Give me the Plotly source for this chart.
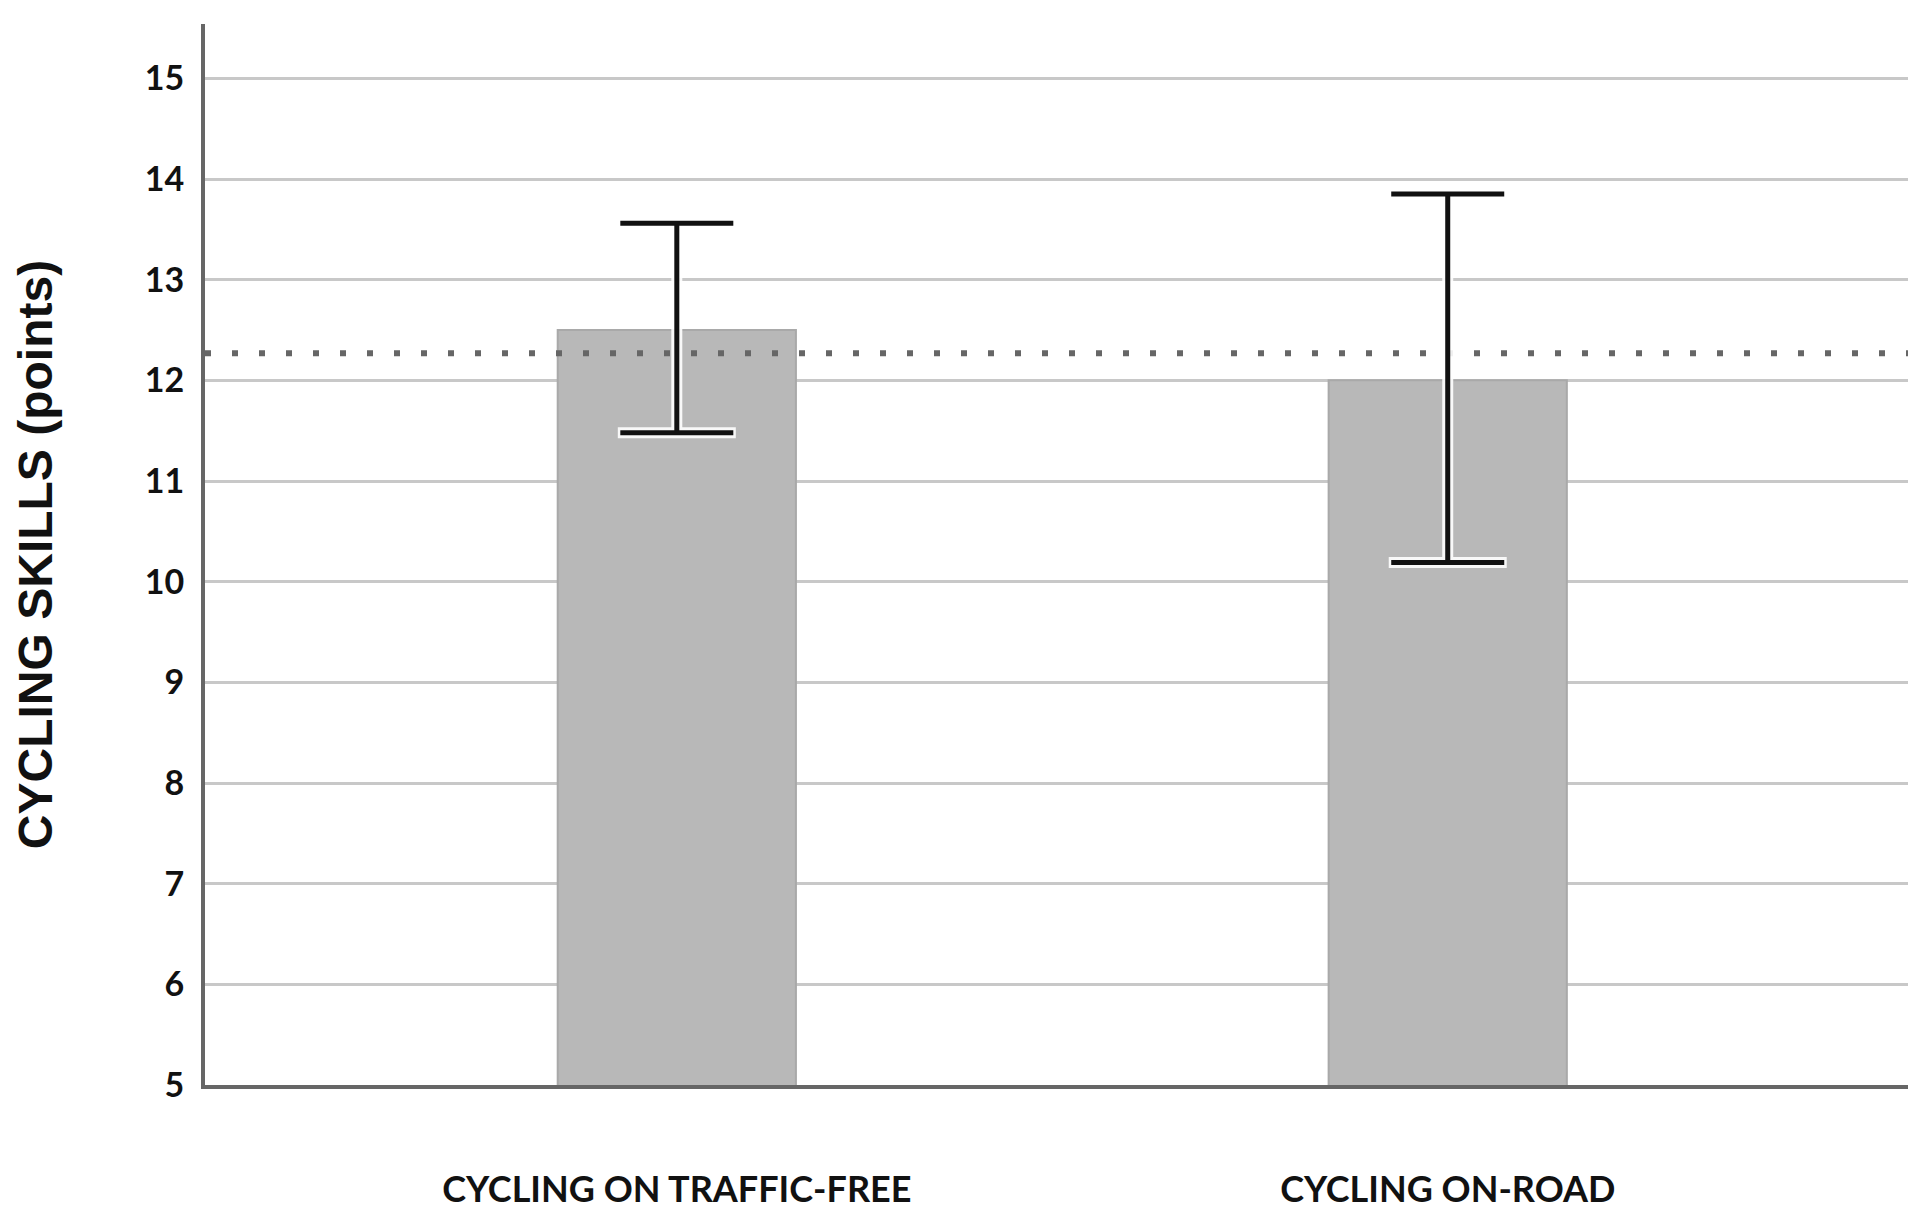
import plotly.graph_objects as go

categories = ["CYCLING ON TRAFFIC-FREE", "CYCLING ON-ROAD"]
means = [12.50, 12.00]
ci_upper = [13.56, 13.85]
ci_lower = [11.48, 10.19]
reference_level = 12.27
y_ticks = [5, 6, 7, 8, 9, 10, 11, 12, 13, 14, 15]

x_pos = list(range(len(categories)))
err_plus = [u - m for u, m in zip(ci_upper, means)]
err_minus = [m - l for m, l in zip(means, ci_lower)]
x_range = [-0.612, 1.610]

fig = go.Figure()
fig.add_trace(go.Bar(
    x=x_pos, y=means, base=0, width=0.309,
    marker=dict(color="#b8b8b8", line=dict(color="#a9a9a9", width=2)),
    showlegend=False, hoverinfo="skip",
))
fig.add_trace(go.Scatter(
    x=[x_range[0], x_range[1]], y=[reference_level, reference_level],
    mode="lines", line=dict(color="#666666", width=6, dash="6px,21px"),
    showlegend=False, hoverinfo="skip",
))
# white halo behind error bars
fig.add_trace(go.Scatter(
    x=x_pos, y=means, mode="markers", marker=dict(size=0.1, opacity=0),
    error_y=dict(type="data", symmetric=False, array=err_plus, arrayminus=err_minus,
                 color="rgba(255,255,255,0.9)", thickness=11, width=59),
    showlegend=False, hoverinfo="skip",
))
fig.add_trace(go.Scatter(
    x=x_pos, y=means, mode="markers", marker=dict(size=0.1, opacity=0),
    error_y=dict(type="data", symmetric=False, array=err_plus, arrayminus=err_minus,
                 color="#111111", thickness=5, width=56.5),
    showlegend=False, hoverinfo="skip",
))

fig.update_layout(
    width=1916, height=1213,
    margin=dict(l=197, r=6, t=16, b=136),
    paper_bgcolor="white", plot_bgcolor="white",
    font=dict(family="Lato", color="#111111"),
)
fig.update_xaxes(
    range=x_range, tickvals=x_pos, ticktext=categories,
    showgrid=False, zeroline=False,
    showline=True, linecolor="#666666", linewidth=4,
    ticks="", ticklabelstandoff=70,
    tickfont=dict(family="Lato", size=36, color="#111111", weight="bold"),
)
fig.update_yaxes(
    range=[5, 15.54], tickvals=y_ticks,
    showgrid=True, gridcolor="#c8c8c8", gridwidth=3, zeroline=False,
    showline=True, linecolor="#666666", linewidth=4,
    ticks="", ticklabelstandoff=10,
    tickfont=dict(family="Lato", size=34, color="#111111", weight="bold"),
    title=dict(text="CYCLING SKILLS (points)", standoff=78,
               font=dict(family="Liberation Sans", size=48, color="#111111", weight="bold")),
)

fig.write_html("out.html")
